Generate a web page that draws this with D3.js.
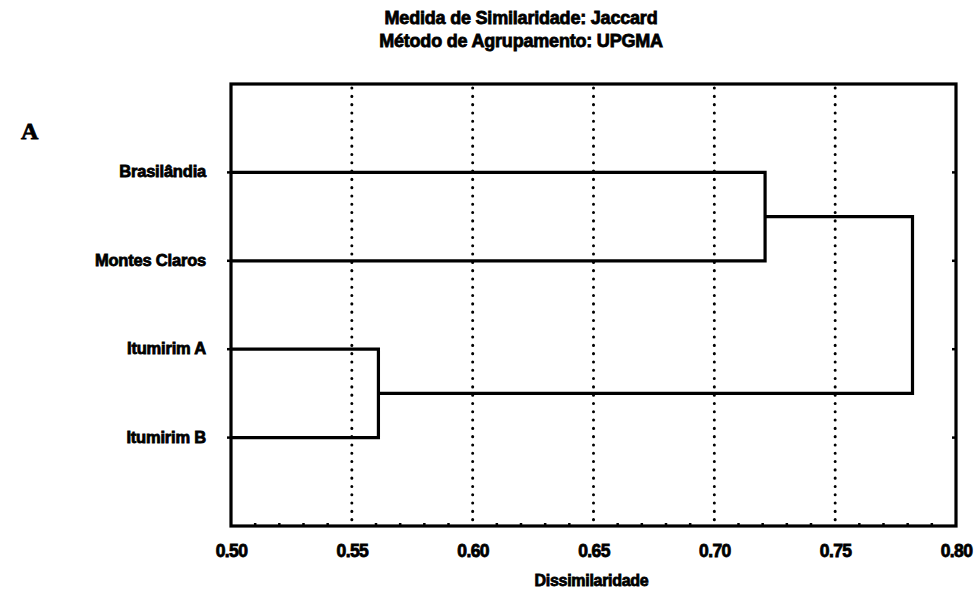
<!DOCTYPE html>
<html>
<head>
<meta charset="utf-8">
<script src="https://cdn.jsdelivr.net/npm/d3@7"></script>
<style>
  html, body { margin: 0; padding: 0; background: #fff; }
  svg text { font-family: "Liberation Sans", Arial, sans-serif; font-weight: bold; fill: #000; stroke: #000; stroke-width: 0.8px; }
</style>
</head>
<body>
<svg id="chart" width="979" height="590"></svg>
<script>
// Leaves of the dendrogram, top to bottom
const leaves = ["Brasilândia", "Montes Claros", "Itumirim A", "Itumirim B"];
// Joins: left member, right member and the dissimilarity at which they merge
const joinLeft = ["Itumirim A", "Brasilândia", "Brasilândia+Montes Claros"];
const joinRight = ["Itumirim B", "Montes Claros", "Itumirim A+Itumirim B"];
const joinHeight = [0.561, 0.721, 0.782];
const joinName = ["Itumirim A+Itumirim B", "Brasilândia+Montes Claros", "root"];
const xTicks = [0.50, 0.55, 0.60, 0.65, 0.70, 0.75, 0.80];
const titleLines = ["Medida de Similaridade: Jaccard", "Método de Agrupamento: UPGMA"];
const xTitle = "Dissimilaridade";
const panelLetter = "A";

const svg = d3.select("#chart");
const plotL = 231, plotR = 956, plotT = 84, plotB = 526;

const x = d3.scaleLinear().domain([0.5, 0.8]).range([plotL, plotR]);
const y = d3.scaleLinear().domain([0, leaves.length + 1]).range([plotT, plotB]);

// Titles
svg.selectAll("text.title").data(titleLines).join("text")
  .attr("class", "title")
  .attr("x", 521).attr("y", (d, i) => 24 + i * 23)
  .attr("text-anchor", "middle")
  .style("font-size", "18px")
  .style("letter-spacing", "-0.2px")
  .text(d => d);

svg.append("text")
  .attr("x", 21).attr("y", 139)
  .style("font-family", "'Liberation Serif', 'Times New Roman', serif")
  .style("font-size", "24px")
  .text(panelLetter);

// Dotted reference lines at the major ticks
svg.append("g").selectAll("line").data(xTicks.slice(1, -1)).join("line")
  .attr("x1", d => x(d)).attr("x2", d => x(d))
  .attr("y1", plotT + 4).attr("y2", plotB)
  .attr("stroke", "#000").attr("stroke-width", 3)
  .attr("stroke-linecap", "round")
  .attr("stroke-dasharray", "0.1 8.2");

// Minor ticks along the bottom edge, pointing inward
const minor = d3.range(51, 80).map(v => v / 100).filter(v => Math.round(v * 100) % 5 !== 0);
svg.append("g").selectAll("line").data(minor).join("line")
  .attr("x1", d => x(d)).attr("x2", d => x(d))
  .attr("y1", plotB).attr("y2", plotB - 3)
  .attr("stroke", "#000").attr("stroke-width", 2.5);

// Small ticks on left and right edges at leaf positions
const ly = leaves.map((d, i) => y(i + 1));
svg.append("g").selectAll("line").data(ly).join("line")
  .attr("x1", plotL - 4).attr("x2", plotL).attr("y1", d => d).attr("y2", d => d)
  .attr("stroke", "#000").attr("stroke-width", 2.5);
svg.append("g").selectAll("line").data(ly).join("line")
  .attr("x1", plotR - 4).attr("x2", plotR).attr("y1", d => d).attr("y2", d => d)
  .attr("stroke", "#000").attr("stroke-width", 2.5);

// Dendrogram
const pos = {};
leaves.forEach((d, i) => { pos[d] = { x: 0.5, y: y(i + 1) }; });
const g = svg.append("g").attr("fill", "none").attr("stroke", "#000").attr("stroke-width", 3.2);
joinName.forEach((name, i) => {
  const a = pos[joinLeft[i]], b = pos[joinRight[i]], h = joinHeight[i];
  const p = d3.path();
  p.moveTo(x(a.x), a.y);
  p.lineTo(x(h), a.y);
  p.lineTo(x(h), b.y);
  p.lineTo(x(b.x), b.y);
  g.append("path").attr("d", p.toString()).attr("stroke-linejoin", "miter");
  pos[name] = { x: h, y: (a.y + b.y) / 2 };
});

// Plot frame
svg.append("rect")
  .attr("x", plotL).attr("y", plotT).attr("width", plotR - plotL).attr("height", plotB - plotT)
  .attr("fill", "none").attr("stroke", "#000").attr("stroke-width", 3.2);

// Leaf labels
svg.append("g").selectAll("text").data(leaves).join("text")
  .attr("x", 206).attr("y", (d, i) => y(i + 1) + 5)
  .attr("text-anchor", "end")
  .style("font-size", "16.5px")
  .style("letter-spacing", "-0.2px")
  .text(d => d);

// X axis labels
const axis = d3.axisBottom(x).tickValues(xTicks).tickFormat(d3.format(".2f")).tickSize(0).tickPadding(0);
const ax = svg.append("g").attr("transform", `translate(0,${plotB})`).call(axis);
ax.select(".domain").remove();
ax.selectAll("text")
  .attr("y", 31).attr("dy", null)
  .style("font-family", "'Liberation Sans', Arial, sans-serif")
  .style("font-weight", "bold")
  .style("font-size", "17.5px")
  .style("letter-spacing", "-0.6px")
  .attr("fill", "#000");

svg.append("text")
  .attr("x", x(0.65) - 2).attr("y", 586)
  .attr("text-anchor", "middle")
  .style("font-size", "16px")
  .style("letter-spacing", "-0.3px")
  .text(xTitle);
</script>
</body>
</html>
